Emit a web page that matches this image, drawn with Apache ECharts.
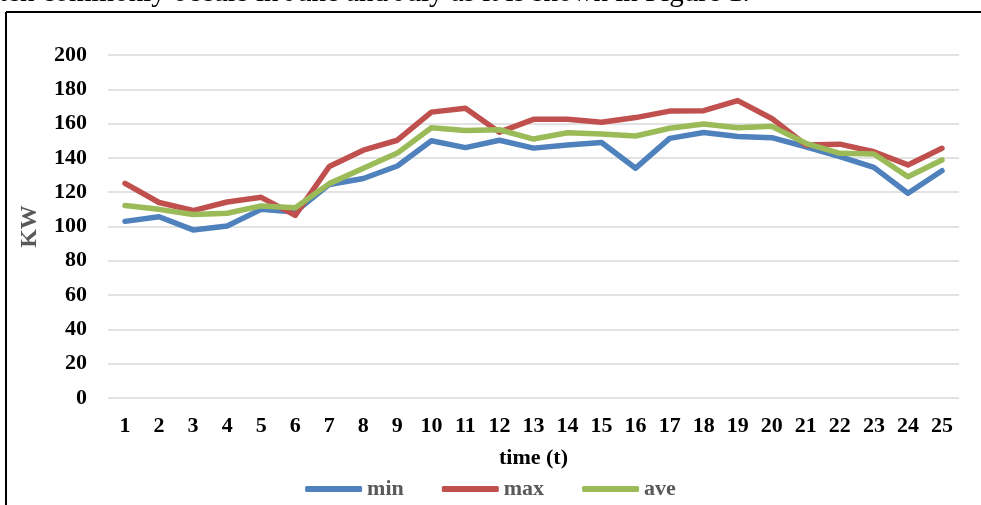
<!DOCTYPE html>
<html>
<head>
<meta charset="utf-8">
<script src="https://cdn.jsdelivr.net/npm/echarts@6/dist/echarts.min.js"></script>
<style>
html,body{margin:0;padding:0;background:#fff;overflow:hidden;}
#chart{width:981px;height:505px;}
</style>
</head>
<body>
<div id="chart"></div>
<script>
var categories = ['1','2','3','4','5','6','7','8','9','10','11','12','13','14','15','16','17','18','19','20','21','22','23','24','25'];
var minValues = [103, 105.7, 98, 100.3, 110, 108.5, 124.5, 128, 135.3, 150, 146, 150.3, 145.7, 147.5, 149, 134, 151.4, 154.8, 152.5, 151.8, 146.5, 140.8, 134.5, 119.4, 132.5];
var maxValues = [125.2, 114, 109.3, 114.3, 117, 106.5, 135, 144.5, 150.3, 166.7, 168.9, 155, 162.5, 162.5, 160.8, 163.5, 167.3, 167.5, 173.4, 163, 147.5, 148, 143.6, 135.9, 145.6];
var aveValues = [112.2, 110, 107, 107.7, 112, 111, 125, 134, 142.8, 157.6, 156, 156.4, 151, 154.7, 154, 152.8, 157.3, 159.8, 157.6, 158.4, 148.5, 142.7, 142.3, 129, 138.8];
var yTicks = {min: 0, max: 200, interval: 20};
var topText = 'ten commonly occurs in June and July as it is shown in Figure 1.';

var chart = echarts.init(document.getElementById('chart'), null, {renderer: 'canvas'});
var serif = '"Liberation Serif", "Times New Roman", serif';
function line(name, data, color) {
  return {
    name: name, type: 'line', data: data, symbol: 'none', showSymbol: false,
    lineStyle: {color: color, width: 5.5, cap: 'round', join: 'round'},
    itemStyle: {color: color}
  };
}
chart.setOption({
  animation: false,
  backgroundColor: '#ffffff',
  graphic: [
    {type: 'text', left: -1, top: -21, style: {text: topText, font: '29px ' + serif, fill: '#000'}},
    {type: 'line', shape: {x1: 6, y1: 12, x2: 981, y2: 12}, style: {stroke: '#000', lineWidth: 2}},
    {type: 'line', shape: {x1: 6, y1: 12, x2: 6, y2: 505}, style: {stroke: '#000', lineWidth: 2}}
  ],
  grid: {left: 108, right: 22, top: 55, bottom: 107, containLabel: false},
  legend: {
    bottom: 0, left: 'center',
    icon: 'roundRect', itemWidth: 57, itemHeight: 6, itemGap: 38,
    textStyle: {fontFamily: serif, fontWeight: 'bold', fontSize: 22, color: '#595959'},
    data: ['min', 'max', 'ave']
  },
  xAxis: {
    type: 'category', data: categories, boundaryGap: true,
    name: 'time (t)', nameLocation: 'middle', nameGap: 49,
    nameTextStyle: {fontFamily: serif, fontWeight: 'bold', fontSize: 22, color: '#000'},
    axisLine: {show: false}, axisTick: {show: false},
    axisLabel: {fontFamily: serif, fontWeight: 'bold', fontSize: 22, color: '#000', margin: 17, interval: 0}
  },
  yAxis: {
    type: 'value', min: yTicks.min, max: yTicks.max, interval: yTicks.interval,
    name: 'KW', nameLocation: 'middle', nameGap: 66, nameRotate: 90,
    nameTextStyle: {fontFamily: serif, fontWeight: 'bold', fontSize: 24, color: '#595959'},
    axisLine: {show: false}, axisTick: {show: false},
    axisLabel: {fontFamily: serif, fontWeight: 'bold', fontSize: 22, color: '#000', margin: 21},
    splitLine: {lineStyle: {color: '#D9D9D9', width: 1.5}}
  },
  series: [
    line('min', minValues, '#4F81BD'),
    line('max', maxValues, '#C0504D'),
    line('ave', aveValues, '#9BBB59')
  ]
});
</script>
</body>
</html>
